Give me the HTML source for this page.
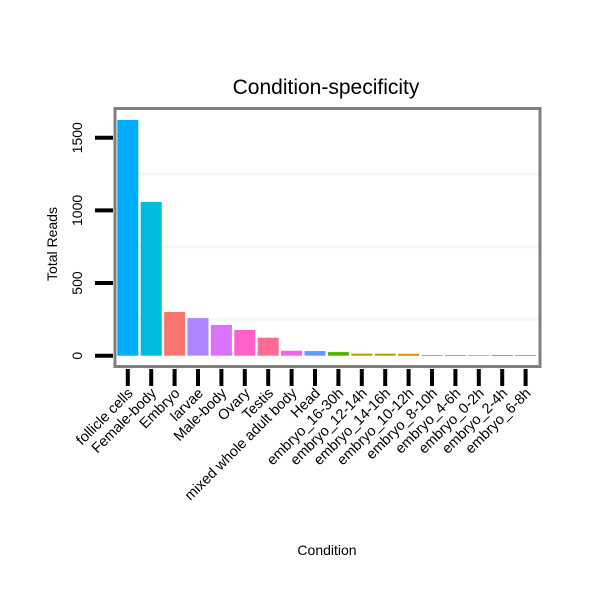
<!DOCTYPE html>
<html><head><meta charset="utf-8"><style>
body{margin:0;background:#fff;font-family:"Liberation Sans",sans-serif;}
</style></head><body>
<svg width="600" height="600" xmlns="http://www.w3.org/2000/svg" id="svg">
<rect width="600" height="600" fill="#fff"/>
<text x="326" y="94" font-size="21" text-anchor="middle">Condition-specificity</text>
<text x="327" y="555" font-size="14" text-anchor="middle">Condition</text>
<text transform="translate(57,244) rotate(-90)" font-size="14" text-anchor="middle">Total Reads</text>
<g id="grid"></g><g id="bars"></g><g id="yaxis"></g><g id="xaxis"></g>
<rect x="115" y="108.5" width="425" height="258" fill="none" stroke="#7f7f7f" stroke-width="3"/>
</svg>
<script>
const categories=["follicle cells","Female-body","Embryo","larvae","Male-body","Ovary","Testis","mixed whole adult body","Head","embryo_16-30h","embryo_12-14h","embryo_14-16h","embryo_10-12h","embryo_8-10h","embryo_4-6h","embryo_0-2h","embryo_2-4h","embryo_6-8h"];
const values=[1622,1058,301,259,211,177,124,34,32,25,14,14,13,5,5,5,5,5];
const colors=["#00ADFA","#00BBDD","#F8766D","#AE87FF","#DB72FB","#FF61C9","#FF6C91","#F564E3","#619CFF","#53B400","#C49A00","#A3A500","#DE8C00","#00BFC4","#00C094","#E7861B","#00BA38","#00C19F"];
const yTicks=[0,500,1000,1500];
const NS="http://www.w3.org/2000/svg";
const y=v=>355.7-v*0.1453;
const x=i=>117.3+i*23.4;
const bw=21;
function mk(tag,attrs,parent){const e=document.createElementNS(NS,tag);for(const k in attrs)e.setAttribute(k,attrs[k]);document.getElementById(parent).appendChild(e);return e;}
[250,750,1250].forEach(v=>{const g=mk('line',{x1:116,x2:539,y1:y(v),y2:y(v),stroke:'#f6f6f6','stroke-width':3},'grid');

});
values.forEach((v,i)=>{const r=mk('rect',{x:x(i),y:y(v),width:bw,height:355.7-y(v),fill:colors[i]},'bars');


const t=mk('line',{x1:x(i)+bw/2,x2:x(i)+bw/2,y1:369,y2:386,stroke:'#000','stroke-width':4},'xaxis');


const cx=x(i)+bw/2+6, cy=394;
const l=mk('text',{x:cx,y:cy,'font-size':14.5,'text-anchor':'end',transform:`rotate(-45 ${cx} ${cy})`},'xaxis');
l.textContent=categories[i];

});
yTicks.forEach(v=>{const t=mk('line',{x1:95,x2:113,y1:y(v),y2:y(v),stroke:'#000','stroke-width':4},'yaxis');


const l=mk('text',{x:0,y:0,'font-size':14,'text-anchor':'middle',transform:`translate(82,${y(v)}) rotate(-90)`},'yaxis');
l.textContent=v;

});
</script>
</body></html>
